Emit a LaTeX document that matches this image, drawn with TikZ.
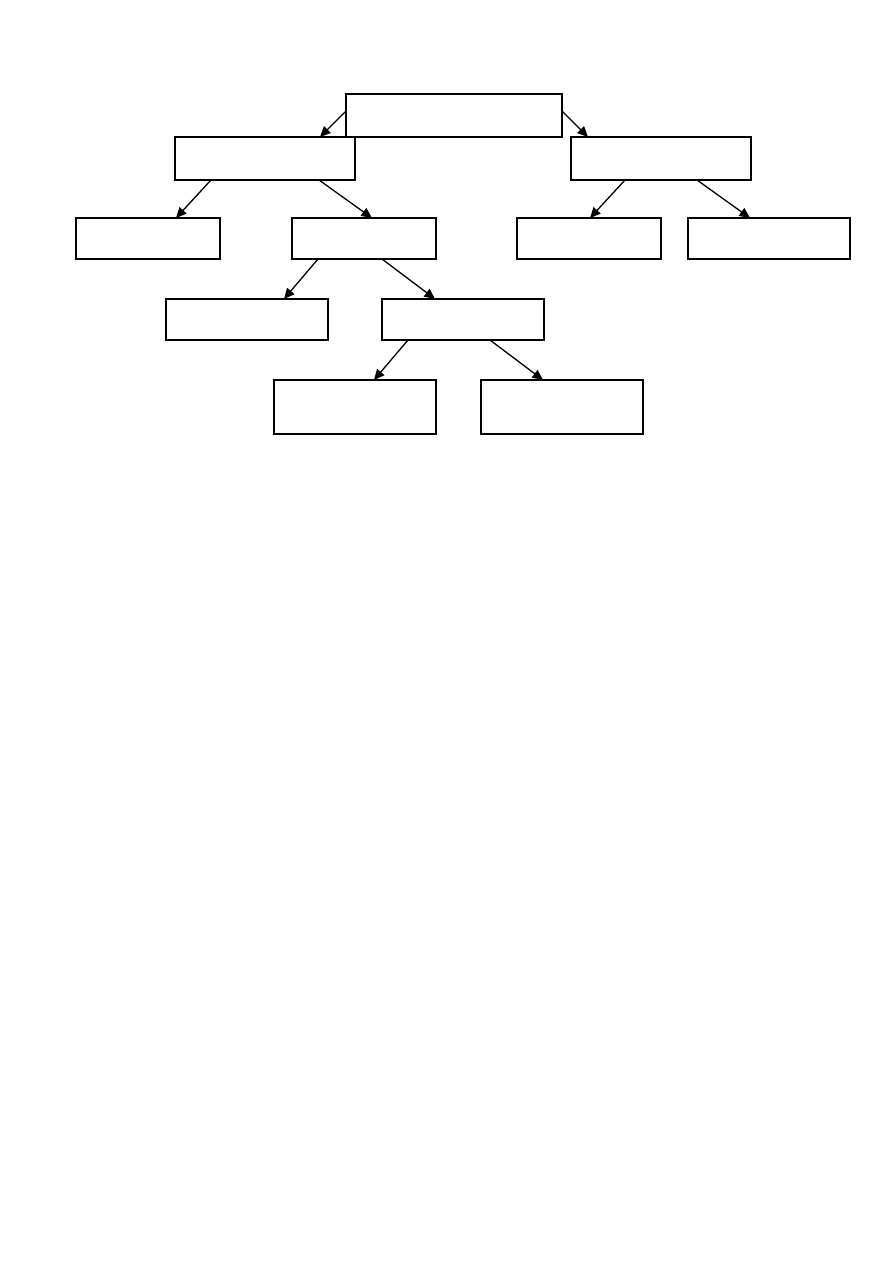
\documentclass[tikz,border=0pt]{standalone}
\usetikzlibrary{arrows.meta}
\tikzset{
  box/.style={draw, line width=1.5pt, inner sep=0pt, outer sep=0pt},
  link/.style={line width=1.3pt, -{Triangle[length=10.5pt,width=9.5pt]}}
}

\begin{document}
\begin{tikzpicture}[x=1pt,y=-1pt]
    \useasboundingbox (0,0) rectangle (893,1263); % page
    \node[box, minimum width=216, minimum height=43] (root) at (454,115.5) {}; % top box
    \node[box, minimum width=180, minimum height=43] (left) at (265,158.5) {}; % second row
    \node[box, minimum width=180, minimum height=43] (right) at (661,158.5) {};
    \node[box, minimum width=144, minimum height=41] (leftA) at (148,238.5) {}; % third row
    \node[box, minimum width=144, minimum height=41] (leftB) at (364,238.5) {};
    \node[box, minimum width=144, minimum height=41] (rightA) at (589,238.5) {};
    \node[box, minimum width=162, minimum height=41] (rightB) at (769,238.5) {};
    \node[box, minimum width=162, minimum height=41] (leftBA) at (247,319.5) {}; % fourth row
    \node[box, minimum width=162, minimum height=41] (leftBB) at (463,319.5) {};
    \node[box, minimum width=162, minimum height=54] (leftBBA) at (355,407) {}; % bottom row
    \node[box, minimum width=162, minimum height=54] (leftBBB) at (562,407) {};
    \draw[link] ([yshift=4.5pt]root.west) -- ([xshift=-35pt]left.north east); % arrows
    \draw[link] ([yshift=4.5pt]root.east) -- ([xshift=17pt]right.north west);
    \draw[link] ([xshift=36pt]left.south west) -- ([xshift=28pt]leftA.north);
    \draw[link] ([xshift=-36pt]left.south east) -- ([xshift=8pt]leftB.north);
    \draw[link] ([xshift=54pt]right.south west) -- ([xshift=1pt]rightA.north);
    \draw[link] ([xshift=-54pt]right.south east) -- ([xshift=-19pt]rightB.north);
    \draw[link] ([xshift=26pt]leftB.south west) -- ([xshift=37pt]leftBA.north);
    \draw[link] ([xshift=18pt]leftB.south) -- ([xshift=-28pt]leftBB.north);
    \draw[link] ([xshift=26pt]leftBB.south west) -- ([xshift=19pt]leftBBA.north);
    \draw[link] ([xshift=27pt]leftBB.south) -- ([xshift=-19pt]leftBBB.north);
\end{tikzpicture}
\end{document}
